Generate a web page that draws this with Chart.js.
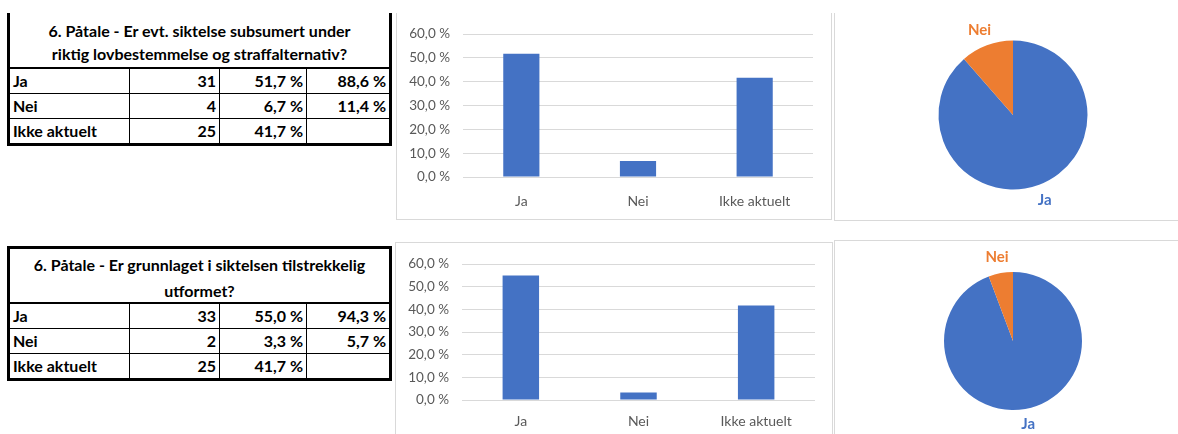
<!DOCTYPE html>
<html>
<head>
<meta charset="utf-8">
<script src="https://cdn.jsdelivr.net/npm/chart.js@4.4.0/dist/chart.umd.min.js"></script>
<style>
body { margin: 0; background: #fff; width: 1178px; height: 434px; position: relative; overflow: hidden; font-family: Lato, "Open Sans", sans-serif; }
.tbl { position: absolute; border-collapse: collapse; font-weight: bold; font-size: 16px; color: #000; table-layout: fixed; border: 3px solid #000; }
.tbl td { border: 1px solid #000; padding: 0 3px; height: 24px; line-height: 24px; white-space: nowrap; overflow: hidden; }
.tbl td.num { text-align: right; }
.tbl td.title { text-align: center; border-bottom: 2px solid #000; vertical-align: top; overflow: visible; }
.panel { position: absolute; border: 1px solid #d9d9d9; box-sizing: border-box; }
canvas { position: absolute; }
</style>
</head>
<body>
<table class="tbl" id="t1" style="left:7px; top:13px; border-top:none;"></table>
<table class="tbl" id="t2" style="left:7px; top:246px;"></table>

<div class="panel" style="left:396px; top:13px; width:436px; height:207px; border-top:none;"></div>
<div class="panel" style="left:834px; top:13px; width:360px; height:208px; border-top:none; border-right:none;"></div>
<div class="panel" style="left:395px; top:242px; width:438px; height:200px; border-bottom:none;"></div>
<div class="panel" style="left:834px; top:240px; width:360px; height:200px; border-bottom:none; border-right:none;"></div>

<canvas id="bar1" width="434" height="206" style="left:397px; top:13px;"></canvas>
<canvas id="pie1" width="300" height="204" style="left:863px; top:13px;"></canvas>
<canvas id="bar2" width="436" height="191" style="left:396px; top:243px;"></canvas>
<canvas id="pie2" width="300" height="186" style="left:863px; top:248px;"></canvas>

<script>
const categories = ["Ja", "Nei", "Ikke aktuelt"];
const pieCategories = ["Ja", "Nei"];

const q1Title = ["6. Påtale - Er evt. siktelse subsumert under", "riktig lovbestemmelse og straffalternativ?"];
const q1Counts = [31, 4, 25];
const q1Percent = [51.7, 6.7, 41.7];
const q1Valid = [88.6, 11.4, null];

const q2Title = ["6. Påtale - Er grunnlaget i siktelsen tilstrekkelig", "utformet?"];
const q2Counts = [33, 2, 25];
const q2Percent = [55.0, 3.3, 41.7];
const q2Valid = [94.3, 5.7, null];

const blue = "#4472C4";
const orange = "#ED7D31";

const fmt = v => v.toFixed(1).replace(".", ",") + " %";

function buildTable(id, title, counts, pct, valid, lineH, padTop, rowH, noTop) {
    const t = document.getElementById(id);
    let html = '<colgroup><col style="width:121px"><col style="width:90px"><col style="width:87px"><col style="width:84px"></colgroup>';
    html += '<tr><td class="title" colspan="4" style="line-height:' + lineH + 'px; padding-top:' + padTop + 'px; height:' + (rowH - padTop) + 'px' +
        (noTop ? '; border-top:none' : '') + '"><div style="height:' + (rowH - padTop) + 'px">' + title.join("<br>") + '</div></td></tr>';
    categories.forEach((c, i) => {
        html += '<tr><td>' + c + '</td><td class="num">' + counts[i] + '</td><td class="num">' + fmt(pct[i]) +
            '</td><td class="num">' + (valid[i] == null ? "" : fmt(valid[i])) + '</td></tr>';
    });
    t.innerHTML = html;
}

buildTable("t1", q1Title, q1Counts, q1Percent, q1Valid, 23, 6, 54, true);
buildTable("t2", q2Title, q2Counts, q2Percent, q2Valid, 26, 3, 53, false);

function barChart(id, values, pad) {
    new Chart(document.getElementById(id), {
        type: "bar",
        data: {
            labels: categories,
            datasets: [{
                data: values,
                backgroundColor: blue,
                barPercentage: 0.31,
                categoryPercentage: 1
            }]
        },
        options: {
            responsive: false,
            animation: false,
            layout: { padding: { top: pad.top, right: pad.right, left: 0, bottom: 0 } },
            plugins: { legend: { display: false }, tooltip: { enabled: false } },
            scales: {
                x: {
                    grid: { display: false },
                    border: { display: false },
                    ticks: { color: "#595959", font: { family: "Lato", size: 14 }, padding: pad.xPad },
                    afterFit: s => { s.height = pad.bottom; }
                },
                y: {
                    min: 0,
                    max: 60,
                    ticks: { stepSize: 10, color: "#595959", font: { family: "Lato", size: 13.5 }, padding: 13, callback: v => fmt(v) },
                    grid: { color: "#d9d9d9", drawTicks: false },
                    border: { display: false },
                    afterFit: s => { s.width = pad.left; }
                }
            }
        }
    });
}

barChart("bar1", q1Percent, { top: 13, right: 18, left: 66, bottom: 42, xPad: 8 });
barChart("bar2", q2Percent, { top: 17, right: 17, left: 66, bottom: 34, xPad: 5 });

const pieLabels = {
    id: "pieLabels",
    afterDatasetsDraw(chart) {
        const ctx = chart.ctx;
        const meta = chart.getDatasetMeta(0);
        const colors = chart.data.datasets[0].backgroundColor;
        ctx.save();
        ctx.font = "bold 15px Lato";
        ctx.textAlign = "center";
        ctx.textBaseline = "middle";
        meta.data.forEach((arc, i) => {
            const label = chart.data.labels[i];
            const mid = (arc.startAngle + arc.endAngle) / 2;
            const dx = Math.cos(mid), dy = Math.sin(mid);
            const w = ctx.measureText(label).width, h = 14;
            const r = arc.outerRadius + 9;
            ctx.fillStyle = colors[i];
            ctx.fillText(label, arc.x + dx * (r + w / 2), arc.y + dy * (r + h / 2));
        });
        ctx.restore();
    }
};

function pieChart(id, values, radius) {
    new Chart(document.getElementById(id), {
        type: "pie",
        data: {
            labels: pieCategories,
            datasets: [{
                data: values,
                backgroundColor: [blue, orange],
                borderWidth: 0,
                radius: radius
            }]
        },
        options: {
            responsive: false,
            animation: false,
            plugins: { legend: { display: false }, tooltip: { enabled: false } }
        },
        plugins: [pieLabels]
    });
}

pieChart("pie1", q1Counts.slice(0, 2), 74.5);
pieChart("pie2", q2Counts.slice(0, 2), 69);
</script>
</body>
</html>
